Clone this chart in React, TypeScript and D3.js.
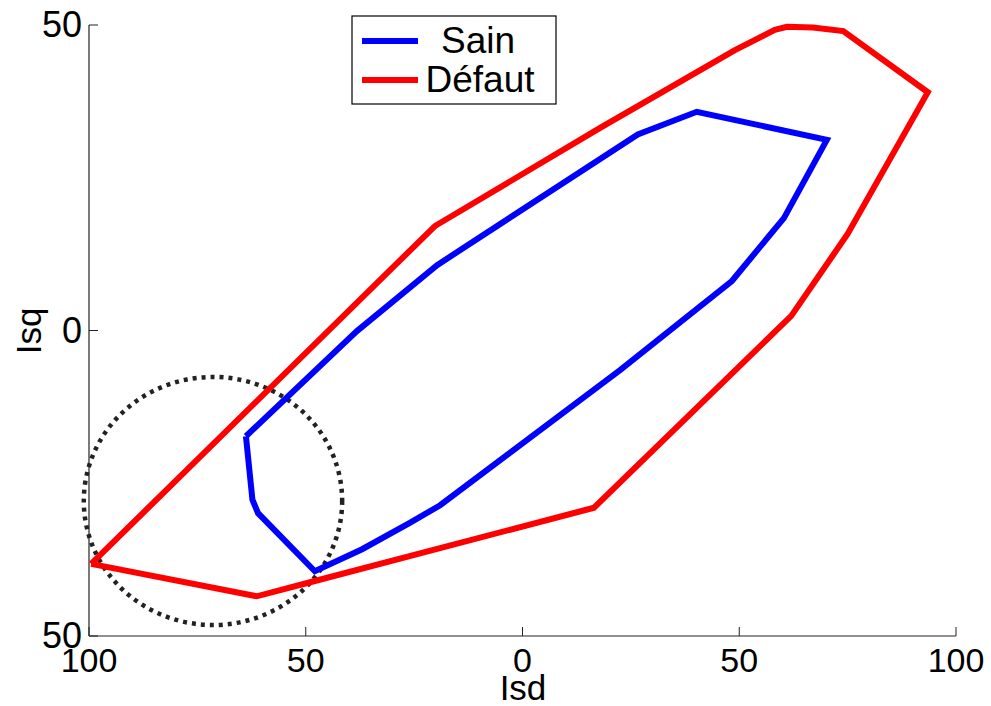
import React from "react";
import * as d3 from "d3";

const xTicks = [-100, -50, 0, 50, 100];
const xTickLabels = ["100", "50", "0", "50", "100"];
const yTicks = [-50, 0, 50];
const yTickLabels = ["50", "0", "50"];

const sainX = [-63.8, -62.3, -61, -47.9, -37, -26, -19, 22.5, 48.3, 60.3, 70.2, 40.2, 26.6, -19.7, -38.2, -63.8];
const sainY = [-17.3, -27.7, -29.9, -39.4, -35.8, -31.5, -28.6, -6.5, 8.1, 18.4, 31.2, 35.8, 32.1, 10.7, -0.1, -17.3];

const defautX = [-99.5, -20.2, 18, 49, 58.2, 61, 67, 74, 93.5, 75, 62, 16.5, -49, -61.3, -99.5];
const defautY = [-38.2, 17.1, 33.2, 45.9, 49.2, 49.7, 49.6, 49, 39, 15.8, 2.4, -29, -41.2, -43.5, -38.2];

const circleCenter = [-71.4, -27.9];
const circleRadii = [29.8, 20.3];

const seriesNames = ["Sain", "Défaut"];
const seriesColors = ["#0000ff", "#ff0000"];

export default function App() {
  const W = 991, H = 706;
  const x = d3.scaleLinear().domain([-100, 100]).range([89, 956]);
  const y = d3.scaleLinear().domain([-50, 50]).range([636, 25]);
  const line = d3.line<[number, number]>().x(d => x(d[0])).y(d => y(d[1]));
  const sain = sainX.map((v, i) => [v, sainY[i]] as [number, number]);
  const defaut = defautX.map((v, i) => [v, defautY[i]] as [number, number]);
  const font = "'Liberation Sans', Arial, Helvetica, sans-serif";
  const axisColor = "#222";
  return (
    <svg width={W} height={H} style={{ position: "absolute", left: 0, top: 0, background: "#fff" }} fontFamily={font}>
      <rect x={0} y={0} width={W} height={H} fill="#fff" />
      {/* axes */}
      <line x1={x(-100)} x2={x(100)} y1={y(-50)} y2={y(-50)} stroke={axisColor} strokeWidth={1.2} />
      <line x1={x(-100)} x2={x(-100)} y1={y(-50)} y2={y(50)} stroke={axisColor} strokeWidth={1.2} />
      {xTicks.map((t, i) => (
        <g key={"xt" + i}>
          <line x1={x(t)} x2={x(t)} y1={y(-50)} y2={y(-50) - 9} stroke={axisColor} strokeWidth={1} />
          <text x={x(t)} y={672} textAnchor="middle" fontSize={34} fill="#000">{xTickLabels[i]}</text>
        </g>
      ))}
      {yTicks.map((t, i) => (
        <g key={"yt" + i}>
          <line x1={x(-100)} x2={x(-100) + 9} y1={y(t)} y2={y(t)} stroke={axisColor} strokeWidth={1} />
          <text x={82} y={y(t) + 12} textAnchor="end" fontSize={36} fill="#000">{yTickLabels[i]}</text>
        </g>
      ))}
      <text x={523} y={700} textAnchor="middle" fontSize={35} fill="#000">Isd</text>
      <text transform={`translate(41,331) rotate(-90)`} textAnchor="middle" fontSize={35} fill="#000">Isq</text>

      {/* dotted circle */}
      <ellipse cx={x(circleCenter[0])} cy={y(circleCenter[1])}
        rx={x(circleRadii[0]) - x(0)} ry={y(0) - y(circleRadii[1])}
        fill="none" stroke="#222" strokeWidth={4.5} strokeDasharray="4 5" />

      <path d={line(defaut) || ""} fill="none" stroke={seriesColors[1]} strokeWidth={6} strokeLinejoin="miter" />
      <path d={line(sain) || ""} fill="none" stroke={seriesColors[0]} strokeWidth={6} strokeLinejoin="miter" />

      {/* legend */}
      <rect x={352} y={16} width={204} height={88} fill="#fff" stroke="#000" strokeWidth={1.2} />
      {seriesNames.map((n, i) => (
        <g key={n}>
          <line x1={362} x2={418} y1={41 + i * 39} y2={41 + i * 39} stroke={seriesColors[i]} strokeWidth={6} />
          <text x={i === 0 ? 478 : 480} y={53 + i * 39} textAnchor="middle" fontSize={37} fill="#000">{n}</text>
        </g>
      ))}
    </svg>
  );
}
